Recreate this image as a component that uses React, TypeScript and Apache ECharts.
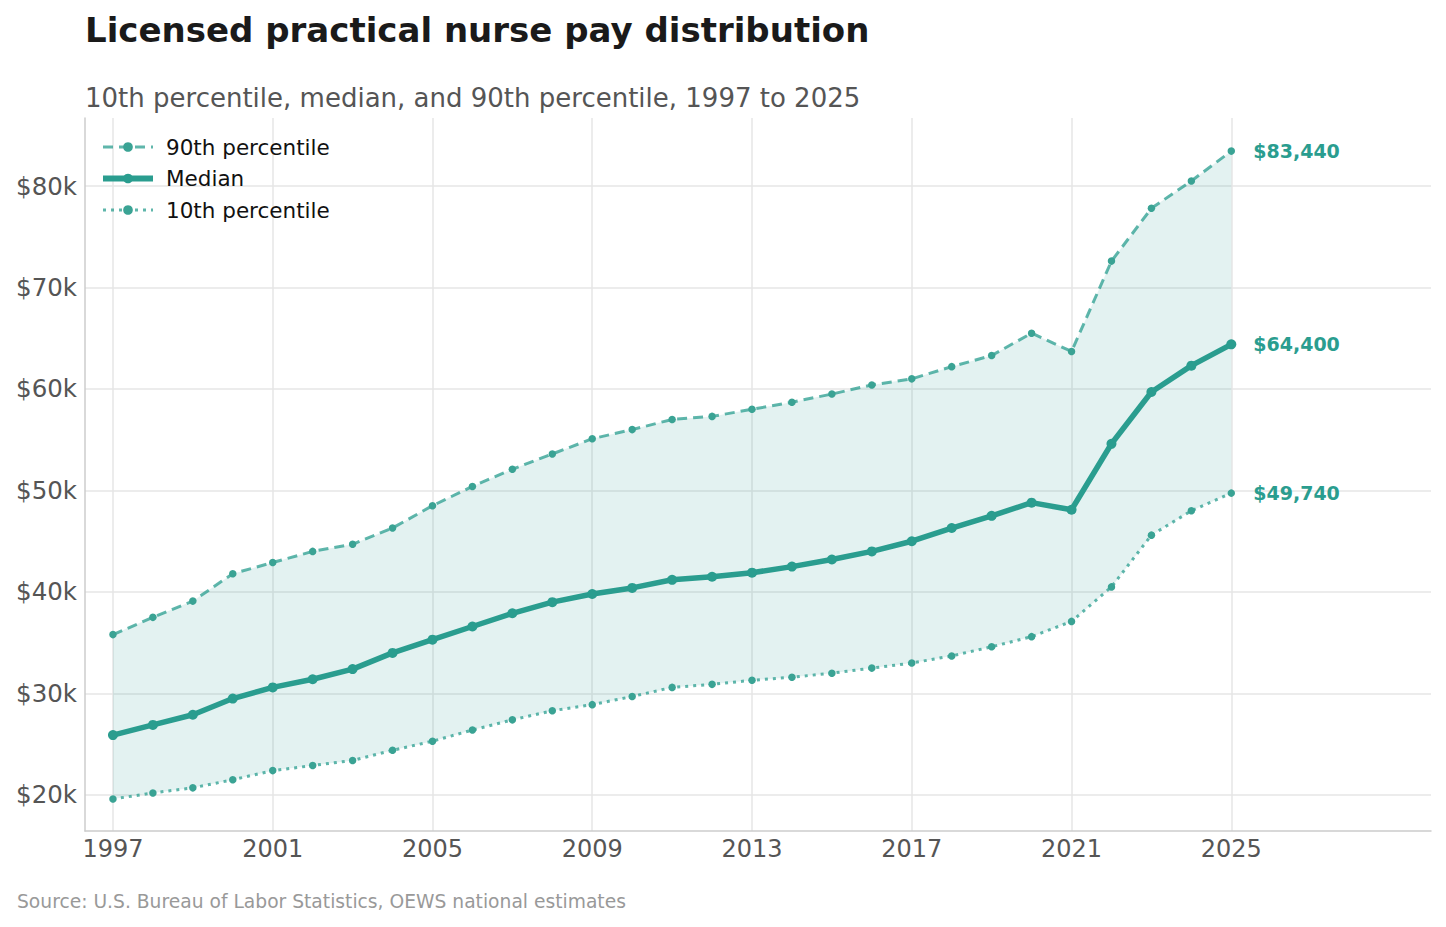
import React, { useEffect, useRef } from "react";
import * as echarts from "echarts";

const years = [1997,1998,1999,2000,2001,2002,2003,2004,2005,2006,2007,2008,2009,2010,2011,2012,2013,2014,2015,2016,2017,2018,2019,2020,2021,2022,2023,2024,2025];
const p90 = [35800,37500,39100,41800,42900,44000,44700,46300,48500,50400,52100,53600,55100,56000,57000,57300,58000,58700,59500,60400,61000,62200,63300,65500,63700,72600,77800,80500,83440];
const median = [25900,26900,27900,29500,30600,31400,32400,34000,35300,36600,37900,39000,39800,40400,41200,41500,41900,42500,43200,44000,45000,46300,47500,48800,48100,54600,59700,62300,64400];
const p10 = [19600,20200,20700,21500,22400,22900,23400,24400,25300,26400,27400,28300,28900,29700,30600,30900,31300,31600,32000,32500,33000,33700,34600,35600,37100,40500,45600,48000,49740];
const xTicks = [1997,2001,2005,2009,2013,2017,2021,2025];
const yTicks = [20000,30000,40000,50000,60000,70000,80000];

const TEAL = "#2a9d8f";
const FONT = "DejaVu Sans";

export default function App() {
  const ref = useRef<HTMLDivElement>(null);
  useEffect(() => {
    document.body.style.margin = "0";
    const chart = echarts.init(ref.current!, null, { renderer: "svg" });
    const pairs = (arr: number[]) => years.map((y, i) => [y, arr[i]]);
    const endLabel = {
      show: true,
      distance: 22,
      color: TEAL,
      fontWeight: "bold",
      fontSize: 19,
      fontFamily: FONT,
      formatter: (p: any) => "$" + Number(p.value[1]).toLocaleString("en-US"),
    };
    const lightLine = "rgba(42,157,143,0.75)";
    chart.setOption({
      animation: false,
      textStyle: { fontFamily: FONT },
      title: [
        { text: "Licensed practical nurse pay distribution", left: 85, top: 13, padding: 0, textStyle: { fontSize: 34, fontWeight: "bold", color: "#1a1a1a", fontFamily: FONT } },
        { text: "10th percentile, median, and 90th percentile, 1997 to 2025", left: 85, top: 85, padding: 0, textStyle: { fontSize: 26, fontWeight: "normal", color: "#555555", fontFamily: FONT } },
        { text: "Source: U.S. Bureau of Labor Statistics, OEWS national estimates", left: 17, top: 892, padding: 0, textStyle: { fontSize: 18.7, fontWeight: "normal", color: "#999999", fontFamily: FONT } },
      ],
      legend: {
        data: [
          { name: "90th percentile", lineStyle: { width: 3, color: lightLine, type: [10, 6] } },
          { name: "Median", lineStyle: { width: 6, color: TEAL } },
          { name: "10th percentile", lineStyle: { width: 3, color: lightLine, type: [3, 5] } },
        ],
        orient: "vertical",
        left: 100,
        top: 136,
        padding: 0,
        itemGap: 9.5,
        itemWidth: 50,
        itemHeight: 12,
        textStyle: { fontSize: 21.5, color: "#111", fontFamily: FONT, padding: [0, 0, 0, 8] },
      },
      grid: { left: 85, right: 15, top: 118, bottom: 96 },
      xAxis: {
        type: "value",
        min: 1996.3,
        max: 2030,
        axisLine: { show: true, lineStyle: { color: "#cccccc", width: 1.5 } },
        axisTick: { show: false, customValues: xTicks },
        axisLabel: { customValues: xTicks, fontSize: 24, color: "#555555", margin: 6, fontFamily: FONT, formatter: (v: number) => String(v) },
        splitLine: { show: true, lineStyle: { color: "#e6e6e6", width: 1.5 } },
      },
      yAxis: {
        type: "value",
        min: 16450,
        max: 86700,
        axisLine: { show: true, lineStyle: { color: "#cccccc", width: 1.5 } },
        axisTick: { show: false, customValues: yTicks },
        axisLabel: { customValues: yTicks, fontSize: 24.5, color: "#555555", margin: 8, fontFamily: FONT, formatter: (v: number) => "$" + v / 1000 + "k" },
        splitLine: { show: true, lineStyle: { color: "#e6e6e6", width: 1.5 } },
      },
      series: [
        {
          type: "custom",
          name: "band",
          silent: true,
          z: 1,
          data: years.map((y, i) => [y, p10[i], p90[i]]),
          renderItem: (params: any, api: any) => {
            if (params.dataIndex !== 0) return null;
            const top = years.map((y, i) => api.coord([y, p90[i]]));
            const bot = years.map((y, i) => api.coord([y, p10[i]])).reverse();
            return {
              type: "polygon",
              shape: { points: top.concat(bot) },
              style: { fill: "rgba(42,157,143,0.13)", stroke: "none" },
            };
          },
        },
        {
          type: "line",
          name: "90th percentile",
          data: pairs(p90),
          z: 3,
          symbol: "circle",
          symbolSize: 7.5,
          lineStyle: { color: lightLine, width: 3, type: [10, 6] },
          itemStyle: { color: "#3aa394" },
          endLabel,
        },
        {
          type: "line",
          name: "Median",
          data: pairs(median),
          z: 4,
          symbol: "circle",
          symbolSize: 10,
          lineStyle: { color: TEAL, width: 5.5 },
          itemStyle: { color: TEAL },
          endLabel,
        },
        {
          type: "line",
          name: "10th percentile",
          data: pairs(p10),
          z: 3,
          symbol: "circle",
          symbolSize: 7.5,
          lineStyle: { color: lightLine, width: 3, type: [3, 5] },
          itemStyle: { color: "#3aa394" },
          endLabel,
        },
      ],
    });
    return () => chart.dispose();
  }, []);
  return <div ref={ref} style={{ width: 1446, height: 927 }} />;
}
